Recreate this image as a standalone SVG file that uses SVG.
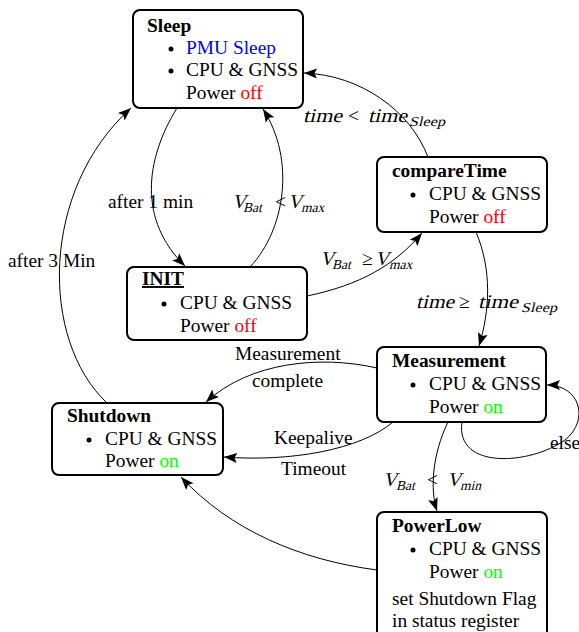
<svg xmlns="http://www.w3.org/2000/svg" width="579" height="632" viewBox="0 0 579 632">
<style>
text{font-family:"Liberation Serif","Times New Roman",serif;font-size:19.4px;fill:#000}
.b{font-weight:bold}
.s{font-size:13.6px}
.box{fill:#fff;stroke:#000;stroke-width:2}
.edge{fill:none;stroke:#000;stroke-width:1;marker-end:url(#arr)}
.blue{fill:#0000ff}
.red{fill:#ff0000}
.grn{fill:#00ff00}
</style>
<defs>
<marker id="arr" markerUnits="userSpaceOnUse" markerWidth="15" markerHeight="12" refX="13" refY="6" orient="auto">
<path d="M0,1 L13,6 L0,11 L2.5,6 z" fill="#000"/>
</marker>
</defs>
<g id="connectors">
<path class="edge" d="M177,108 C145,160 138,220 185,266"/>
<path class="edge" d="M250,267 C285,230 296,160 263,109"/>
<path class="edge" d="M428,157 C410,110 360,75 304,73"/>
<path class="edge" d="M307,296 C360,285 395,265 422,233"/>
<path class="edge" d="M476,232 C492,270 490,310 479,346"/>
<path class="edge" d="M377,368 C320,355 250,362 206,402"/>
<path class="edge" d="M393,422 C360,450 290,462 224,457"/>
<path class="edge" d="M462,422 C455,470 530,465 565,440 C590,420 580,385 547,385"/>
<path class="edge" d="M448,422 C432,455 430,490 437,511"/>
<path class="edge" d="M377,570 C300,560 230,530 181,477"/>
<path class="edge" d="M107,403 C40,340 40,190 131,108"/>
<text x="108" y="208">after 1 min</text>
<text x="8" y="267">after 3 Min</text>
<text x="235" y="360">Measurement</text>
<text x="252" y="387">complete</text>
<text x="274" y="444">Keepalive</text>
<text x="281" y="475">Timeout</text>
<text x="550" y="449">else</text>
<text transform="translate(232,208) skewX(-14)">V</text><text class="s" transform="translate(243,212) skewX(-14)">Bat</text><text x="275" y="208">&lt;</text><text transform="translate(288,208) skewX(-14)">V</text><text class="s" transform="translate(301,212) skewX(-14)">max</text>
<text transform="translate(320,265) skewX(-14)">V</text><text class="s" transform="translate(332,269) skewX(-14)">Bat</text><text x="362" y="265">≥</text><text transform="translate(375,265) skewX(-14)">V</text><text class="s" transform="translate(389,269) skewX(-14)">max</text>
<text transform="translate(303,122) skewX(-14)" textLength="39" lengthAdjust="spacingAndGlyphs">time</text><text x="348" y="122">&lt;</text><text transform="translate(368,122) skewX(-14)" textLength="39" lengthAdjust="spacingAndGlyphs">time</text><text class="s" transform="translate(409,126) skewX(-14)" textLength="36" lengthAdjust="spacingAndGlyphs">Sleep</text>
<text transform="translate(416,308) skewX(-14)" textLength="38" lengthAdjust="spacingAndGlyphs">time</text><text x="459" y="308">≥</text><text transform="translate(478,308) skewX(-14)" textLength="40" lengthAdjust="spacingAndGlyphs">time</text><text class="s" transform="translate(521,312) skewX(-14)" textLength="36" lengthAdjust="spacingAndGlyphs">Sleep</text>
<text transform="translate(383,486) skewX(-14)">V</text><text class="s" transform="translate(396,490) skewX(-14)">Bat</text><text x="427" y="486">&lt;</text><text transform="translate(447,486) skewX(-14)">V</text><text class="s" transform="translate(460,490) skewX(-14)">min</text>
</g>
<g id="sleep">
<rect class="box" x="133" y="10" width="170" height="98" rx="7"/>
<text class="b" x="147" y="32">Sleep</text>
<circle cx="171" cy="49" r="2.5"/>
<text class="blue" x="186" y="54">PMU Sleep</text>
<circle cx="171" cy="71" r="2.5"/>
<text x="186" y="76">CPU &amp; GNSS</text>
<text x="186" y="99">Power <tspan class="red">off</tspan></text>
</g>
<g id="compareTime">
<rect class="box" x="377" y="157" width="170" height="75" rx="7"/>
<text class="b" x="392" y="177">compareTime</text>
<circle cx="413" cy="195" r="2.5"/>
<text x="429" y="200">CPU &amp; GNSS</text>
<text x="429" y="223">Power <tspan class="red">off</tspan></text>
</g>
<g id="init">
<rect class="box" x="127" y="267" width="180" height="73" rx="7"/>
<text class="b" x="142" y="285" text-decoration="underline">INIT</text>
<circle cx="164" cy="304" r="2.5"/>
<text x="180" y="309">CPU &amp; GNSS</text>
<text x="180" y="332">Power <tspan class="red">off</tspan></text>
</g>
<g id="measurement">
<rect class="box" x="377" y="347" width="169" height="75" rx="7"/>
<text class="b" x="392" y="367">Measurement</text>
<circle cx="413" cy="385" r="2.5"/>
<text x="429" y="390">CPU &amp; GNSS</text>
<text x="429" y="413">Power <tspan class="grn">on</tspan></text>
</g>
<g id="shutdown">
<rect class="box" x="52" y="403" width="171" height="72" rx="7"/>
<text class="b" x="67" y="422">Shutdown</text>
<circle cx="89" cy="440" r="2.5"/>
<text x="105" y="445">CPU &amp; GNSS</text>
<text x="105" y="467">Power <tspan class="grn">on</tspan></text>
</g>
<g id="powerLow">
<rect class="box" x="377" y="512" width="170" height="130" rx="7"/>
<text class="b" x="392" y="532">PowerLow</text>
<circle cx="413" cy="550" r="2.5"/>
<text x="429" y="555">CPU &amp; GNSS</text>
<text x="429" y="578">Power <tspan class="grn">on</tspan></text>
<text x="392" y="605">set Shutdown Flag</text>
<text x="392" y="627">in status register</text>
</g>
</svg>
